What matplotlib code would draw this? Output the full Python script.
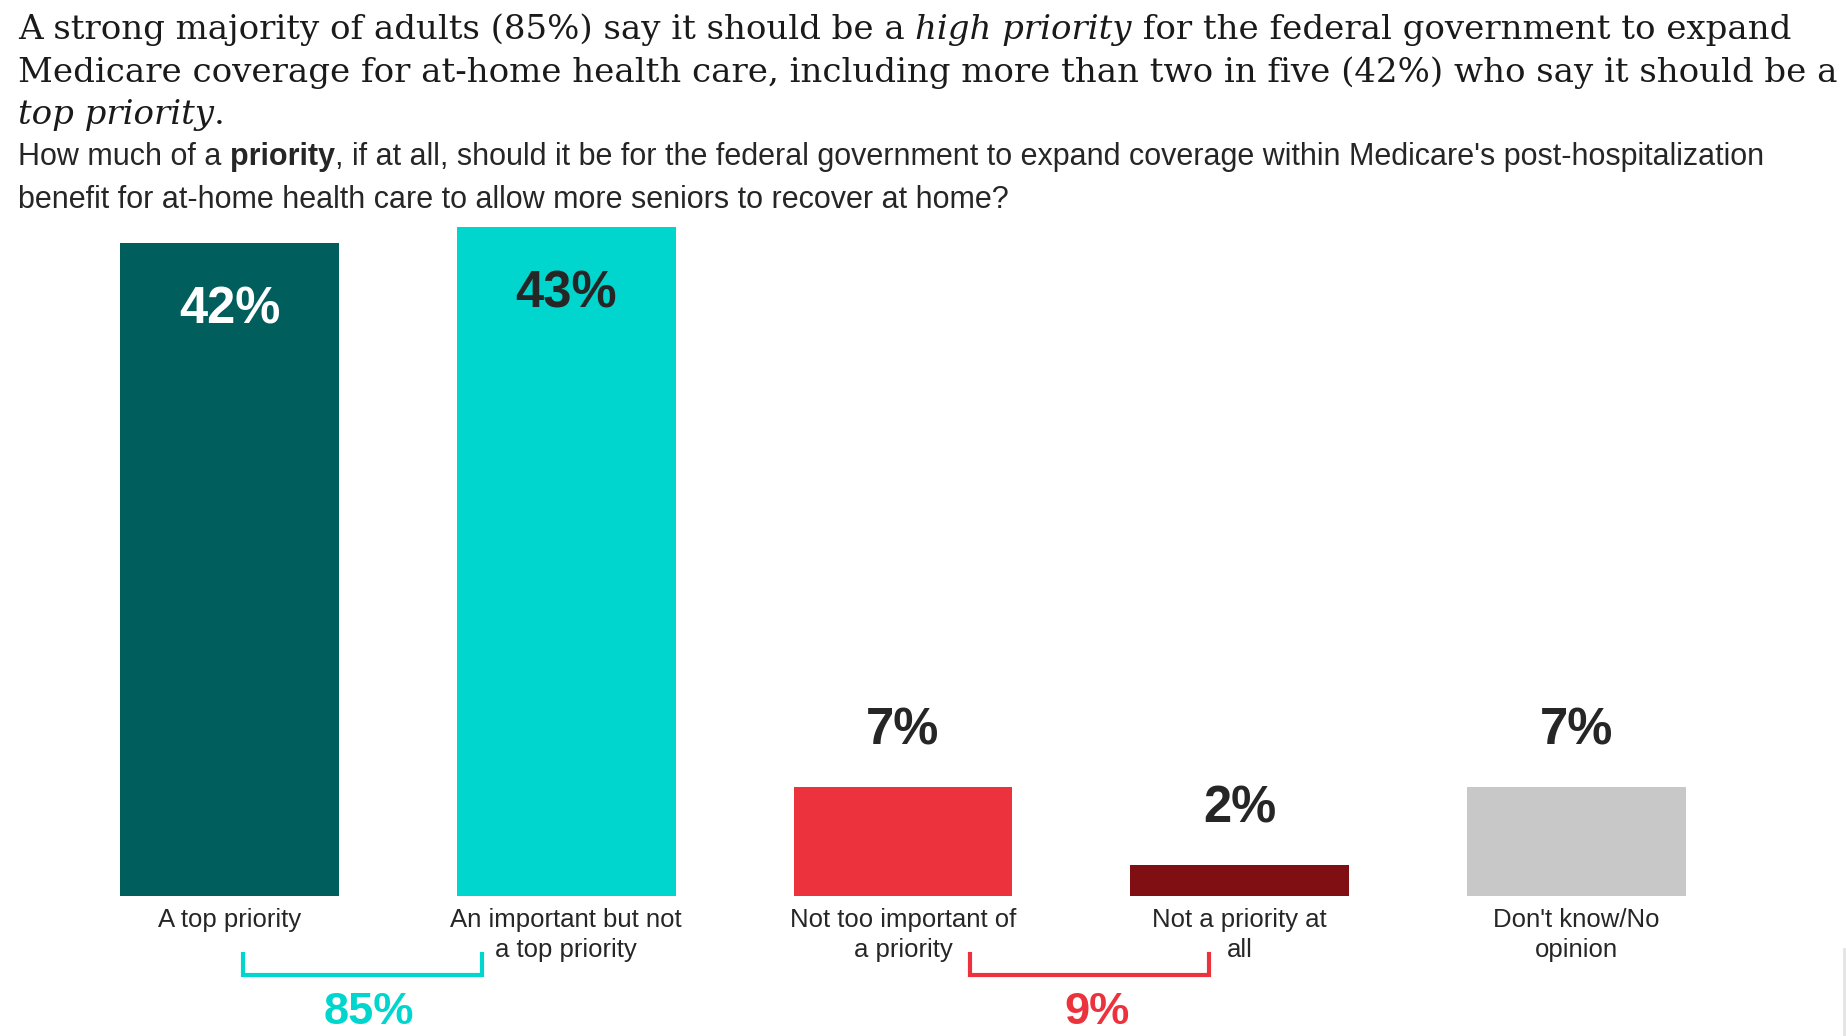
import numpy as np
import matplotlib
matplotlib.use("Agg")
import matplotlib.pyplot as plt
import matplotlib.transforms as mtransforms

# data
categories = ["A top priority", "An important but not\na top priority",
              "Not too important of\na priority", "Not a priority at\nall",
              "Don't know/No\nopinion"]
values = [42, 43, 7, 2, 7]
colors = ["#005E5C", "#00D6CE", "#EC333D", "#800F14", "#C8C8C8"]
label_colors = ["white", "#262626", "#262626", "#262626", "#262626"]
group_labels = ["85%", "9%"]
group_colors = ["#00D6CE", "#EC333D"]
# bracket extents in bar-index units
bracket_spans = [(0.04, 0.75), (2.2, 2.91)]

W, H = 1568.0, 880.0   # layout units (scaled reference)

def fx(x):
    return x / W

def fy(y):
    return 1 - y / H

fig = plt.figure(figsize=(18.46, 10.36), dpi=100)
renderer = fig.canvas.get_renderer()


def rich_line(x, y, parts, **kw):
    x = fx(x)
    for txt, style in parts:
        t = fig.text(x, fy(y), txt, va="baseline", ha="left", **kw, **style)
        bb = t.get_window_extent(renderer)
        x += bb.width / fig.bbox.width


# title
tkw = dict(family="DejaVu Serif", fontsize=24.5, color="#1a1a1a")
it = {"style": "italic"}
rm = {}
rich_line(15, 33, [("A strong majority of adults (85%) say it should be a ", rm),
                   ("high priority", it),
                   (" for the federal government to expand", rm)], **tkw)
rich_line(15, 70, [("Medicare coverage for at-home health care, including more than two in five (42%) who say it should be a", rm)], **tkw)
rich_line(15, 105, [("top priority", it), (".", rm)], **tkw)

# subtitle
skw = dict(family="Liberation Sans", fontsize=22, color="#262626")
rich_line(15, 140, [("How much of a ", rm), ("priority", {"weight": "bold"}),
                    (", if at all, should it be for the federal government to expand coverage within Medicare's post-hospitalization", rm)], **skw)
rich_line(15, 177, [("benefit for at-home health care to allow more seniors to recover at home?", rm)], **skw)

# bars
x0, step = 195.0, 286.0
ax = fig.add_axes([0, fy(761), 1, fy(193) - fy(761)])
ax.set_xlim(-x0 / step, (W - x0) / step)
ax.set_ylim(0, 43)
ax.axis("off")
xs = np.arange(len(values))
ax.bar(xs, values, width=0.65, color=colors)

for i, v in enumerate(values):
    if v > 20:
        ax.text(i, v - 2.75, f"{v}%", ha="center", va="top", fontsize=36.5,
                weight="bold", color=label_colors[i], family="Liberation Sans")
    else:
        ax.text(i, v + 2.0, f"{v}%", ha="center", va="bottom", fontsize=36.5,
                weight="bold", color="#262626", family="Liberation Sans")

bt = mtransforms.blended_transform_factory(ax.transData, fig.transFigure)
for i, c in enumerate(categories):
    ax.text(i, fy(771), c, ha="center", va="top", transform=bt, fontsize=18.5,
            color="#262626", family="Liberation Sans", linespacing=1.32)

# group brackets
for (l, r), lab, col in zip(bracket_spans, group_labels, group_colors):
    ax.plot([l, l, r, r], [fy(810), fy(828), fy(828), fy(810)], color=col,
            lw=3, transform=bt, clip_on=False, solid_joinstyle="miter")
    ax.text((l + r) / 2 + 0.02, fy(860), lab, ha="center", va="center",
            transform=bt, fontsize=32.5, weight="bold", color=col,
            family="Liberation Sans")

fig.add_artist(plt.Line2D([fx(1566), fx(1566)], [0, fy(806)], color="#e4e4e4",
                          lw=2, transform=fig.transFigure))

fig.savefig("out.png", dpi=100, facecolor="white")
